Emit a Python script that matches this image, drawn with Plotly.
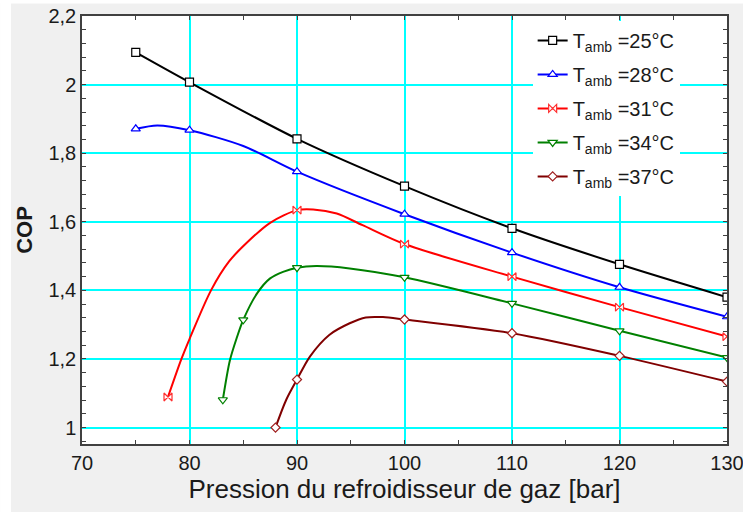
import plotly.graph_objects as go

# ---- data ----
labels = ["T<sub>amb</sub> =25°C", "T<sub>amb</sub> =28°C", "T<sub>amb</sub> =31°C",
          "T<sub>amb</sub> =34°C", "T<sub>amb</sub> =37°C"]

p25 = [75, 80, 90, 100, 110, 120, 130]
cop25 = [2.094, 2.007, 1.842, 1.704, 1.581, 1.476, 1.380]
mk25 = [75, 80, 90, 100, 110, 120, 130]

p28 = [75, 77, 80, 85, 90, 100, 110, 120, 130]
cop28 = [1.871, 1.881, 1.867, 1.821, 1.746, 1.622, 1.510, 1.409, 1.323]
mk28 = [75, 80, 90, 100, 110, 120, 130]

p31 = [78, 79.25, 80, 82.0, 83.7, 85.3, 87.5, 90, 91.5, 93.7, 96.1, 100, 110, 120, 130]
cop31 = [1.089, 1.200, 1.258, 1.400, 1.485, 1.538, 1.597, 1.634, 1.636, 1.624, 1.590, 1.535, 1.440, 1.351, 1.265]
mk31 = [78, 90, 100, 110, 120, 130]

p34 = [83.1, 83.75, 84.4, 85, 86.3, 87.5, 88.7, 90, 91.8, 94.9, 100, 110, 120, 130]
cop34 = [1.081, 1.195, 1.262, 1.314, 1.392, 1.435, 1.454, 1.466, 1.471, 1.464, 1.438, 1.362, 1.282, 1.204]
mk34 = [83.1, 85, 90, 100, 110, 120, 130]

p37 = [88, 89, 90, 91.2, 93, 94.9, 96.4, 98, 100, 110, 120, 130]
cop37 = [1.000, 1.081, 1.140, 1.207, 1.270, 1.304, 1.321, 1.322, 1.315, 1.275, 1.209, 1.134]
mk37 = [88, 90, 100, 110, 120, 130]

x_ticks = [70, 80, 90, 100, 110, 120, 130]
y_ticks = [1, 1.2, 1.4, 1.6, 1.8, 2, 2.2]

# ---- styles ----
colors = ["#000000", "#0000ff", "#ff0000", "#008000", "#800000"]
mcolors = ["#000000", "#0000ff", "#ff3030", "#008000", "#a02020"]
symbols = ["square", "triangle-up", "bowtie", "triangle-down", "diamond"]
msizes = [8, 8, 8, 8, 7]

series = [(p25, cop25, mk25), (p28, cop28, mk28), (p31, cop31, mk31),
          (p34, cop34, mk34), (p37, cop37, mk37)]

fig = go.Figure()
for i, (px, py, mk) in enumerate(series):
    fig.add_trace(go.Scatter(
        x=px, y=py, mode="lines", showlegend=False, hoverinfo="skip",
        line=dict(color=colors[i], width=2, shape="spline", smoothing=0.8)))
    mx = [x for x in px if x in mk]
    my = [y for x, y in zip(px, py) if x in mk]
    fig.add_trace(go.Scatter(
        x=mx, y=my, mode="markers", showlegend=False,
        marker=dict(symbol=symbols[i], size=msizes[i], color="white",
                    line=dict(color=mcolors[i], width=1.2))))
    fig.add_trace(go.Scatter(
        x=[None], y=[None], mode="lines+markers", name=labels[i],
        legendgroup=f"g{i}",
        line=dict(color=colors[i], width=2),
        marker=dict(symbol=symbols[i], size=msizes[i], color="white",
                    line=dict(color=mcolors[i], width=1.2))))

W, H = 743, 512
L, R, T, B = 82, 15.5, 15.6, 68
pw = W - L - R
ph = H - T - B

axis_common = dict(
    showline=True, linecolor="#404040", linewidth=1.5, mirror="allticks",
    ticks="inside", ticklen=4, tickcolor="#404040", tickwidth=1,
    showgrid=True, gridcolor="#00ffff", gridwidth=1.5, zeroline=False,
    automargin=False,
)

fig.update_layout(
    width=W, height=H,
    margin=dict(l=L, r=R, t=T, b=B, pad=0, autoexpand=False),
    paper_bgcolor="#f0f0f0", plot_bgcolor="white",
    separators=", ",
    font=dict(family="Liberation Sans, Arial, sans-serif", color="#1a1a1a"),
    xaxis=dict(range=[70, 130], tickvals=x_ticks, ticklabeloverflow="allow",
               tickfont=dict(size=20, color="#1a1a1a"),
               minor=dict(dtick=5, ticks="inside", ticklen=4, tickcolor="#404040", showgrid=False),
               title=dict(text="Pression du refroidisseur de gaz [bar]",
                          font=dict(size=26), standoff=3),
               **axis_common),
    yaxis=dict(range=[0.952, 2.2], tickvals=y_ticks,
               tickfont=dict(size=20, color="#1a1a1a"),
               minor=dict(dtick=0.04, tick0=0, ticks="inside", ticklen=4, tickcolor="#404040", showgrid=False),
               title=dict(text="<b>COP</b>", font=dict(size=22), standoff=10),
               **axis_common),
    legend=dict(x=(533 - L) / pw, y=1 - (20.5 - T) / ph, xanchor="left", yanchor="top",
                bgcolor="white", borderwidth=0, tracegroupgap=5,
                font=dict(size=20, color="#1a1a1a"), itemwidth=30),
    shapes=[
        dict(type="rect", xref="paper", yref="paper",
             x0=-L / pw, x1=(11 - L) / pw, y0=-B / ph - 0.05, y1=1 + T / ph + 0.05,
             fillcolor="white", line=dict(width=0), layer="above"),
        dict(type="rect", xref="paper", yref="paper",
             x0=-L / pw, x1=1 + R / pw + 0.05, y0=1 + (T - 3) / ph, y1=1 + T / ph + 0.05,
             fillcolor="white", line=dict(width=0), layer="above"),
    ],
)

fig.write_html("out.html")
